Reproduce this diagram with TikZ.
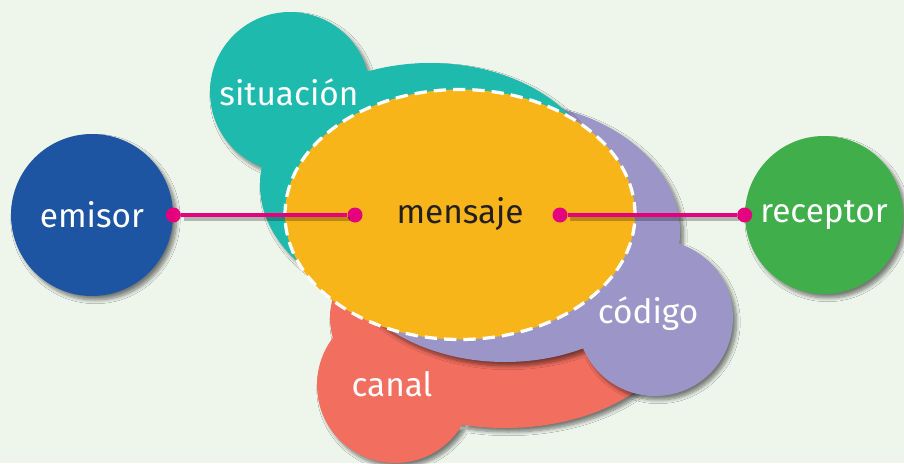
\documentclass[tikz,border=0pt]{standalone}
\usepackage{fontspec}
\setmainfont{Fira Sans}
\usepackage{tikz}
\usetikzlibrary{shapes.geometric,shadows.blur}

\definecolor{fondo}{HTML}{EEF5EB}
\definecolor{azul}{HTML}{1E55A3}
\definecolor{verde}{HTML}{40AE4A}
\definecolor{turquesa}{HTML}{1FBAAE}
\definecolor{lila}{HTML}{9B95C8}
\definecolor{coral}{HTML}{F26E5F}
\definecolor{amarillo}{HTML}{F8B519}
\definecolor{rosa}{HTML}{E5007D}
\definecolor{tinta}{HTML}{231F20}

\begin{document}
\begin{tikzpicture}[sombra/.style={blur shadow={shadow xshift=0.07cm, shadow yshift=-0.08cm, shadow blur steps=8, shadow opacity=50}},
    polo/.style={circle, text=white, inner sep=0pt, font=\fontsize{19}{23}\selectfont, sombra},
    rotulo/.style={text=white, font=\fontsize{19}{23}\selectfont},
    punto/.style={circle, fill=rosa, inner sep=0pt, minimum size=0.3cm},
    enlace/.style={rosa, line width=0.075cm}]
                \fill[fondo] (0,0) rectangle (18.08,9.26);
                \useasboundingbox (0,0) rectangle (18.08,9.26);

                \fill[coral, sombra] (7.9,1.56) circle (1.56) (10.1,2.9) ellipse (3.5 and 2.2);
                \fill[lila, sombra] (10.1,4.62) ellipse (3.5 and 2.6) (13.1,2.9) circle (1.56);
                \fill[turquesa, sombra] (8.6,5.56) ellipse (3.4 and 2.44) (5.8,7.42) circle (1.6);

                \node[ellipse, fill=amarillo, draw=white, line width=0.065cm, dash pattern=on 7pt off 4pt,
                      minimum width=7cm, minimum height=5cm, text=tinta, font=\fontsize{19}{23}\selectfont] (M) at (9.2,4.97) {mensaje};

                \node[rotulo] (S) at (5.78,7.42) {situación};
                \node[rotulo] (C) at (12.96,2.98) {código};
                \node[rotulo] (K) at (7.84,1.58) {canal};

                \node[polo, fill=azul, minimum size=3.24cm] (E) at (1.84,4.96) {emisor};
                \node[polo, fill=verde, minimum size=3.16cm] (R) at (16.48,4.96) {receptor};

                \node[punto] (E1) at (E.east) {};
                \node[punto] (M1) at (7.1,4.96) {};
                \node[punto] (M2) at (11.2,4.96) {};
                \node[punto] (R1) at (R.west) {};

                \draw[black, opacity=0.25, line width=0.08cm, transform canvas={shift={(0.05,-0.08)}}] (E1) -- (M1);
                \draw[black, opacity=0.25, line width=0.08cm, transform canvas={shift={(0.05,-0.08)}}] (M2) -- (R1);
                \draw[enlace] (E1) -- (M1);
                \draw[enlace] (M2) -- (R1);
            \end{tikzpicture}
\end{document}
